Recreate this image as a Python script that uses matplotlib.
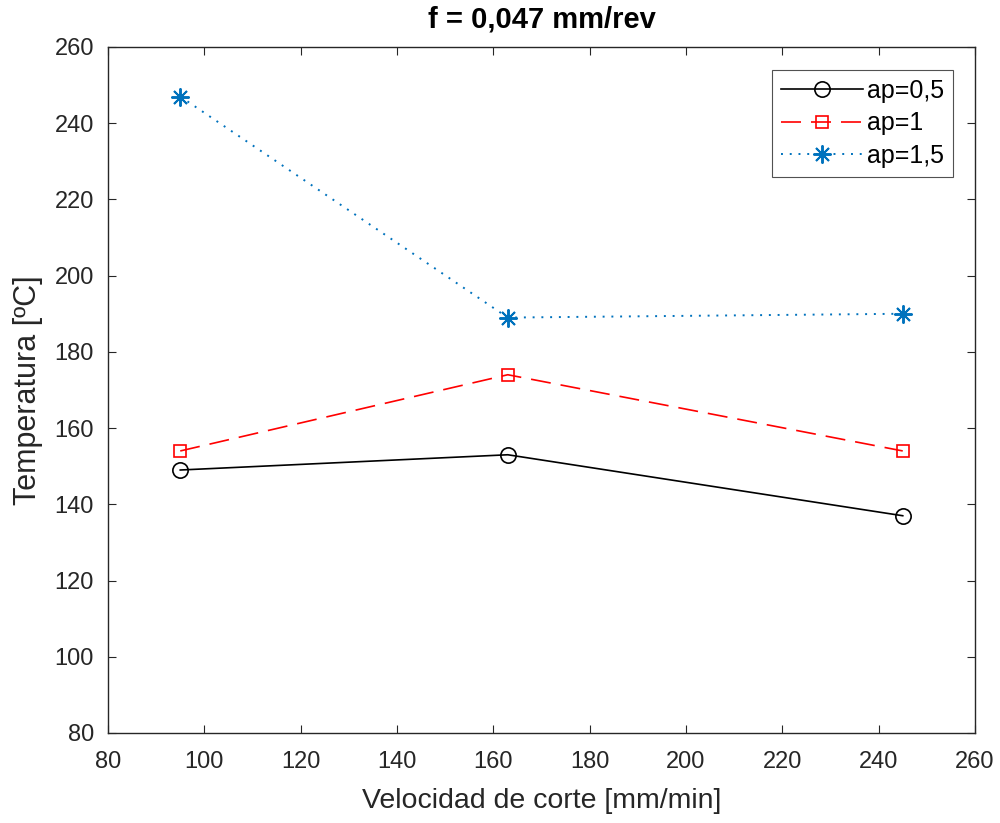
import matplotlib
matplotlib.use("Agg")
import matplotlib.pyplot as plt

plt.rcParams['font.family'] = ['Liberation Sans', 'DejaVu Sans']

velocidad = [95, 163, 245]
temp_ap05 = [149, 153, 137]
temp_ap1 = [154, 174, 154]
temp_ap15 = [247, 189, 190]
labels = ['ap=0,5', 'ap=1', 'ap=1,5']

fig = plt.figure(figsize=(10, 8.23), dpi=100)
ax = fig.add_axes([0.108, 0.1094, 0.867, 0.8335])

ax.plot(velocidad, temp_ap05, color='black', linestyle='-', linewidth=1.2,
        marker='o', markersize=11, markerfacecolor='none', markeredgewidth=1.2,
        label=labels[0])
ax.plot(velocidad, temp_ap1, color='red', linestyle=(0, (12, 6)), linewidth=1.2,
        marker='s', markersize=8.5, markerfacecolor='none', markeredgewidth=1.2,
        label=labels[1])
ax.plot(velocidad, temp_ap15, color='#0072BD', linestyle=(0, (1, 3.5)), linewidth=1.4,
        marker=(8, 2, 0), markersize=13, markeredgewidth=1.4,
        label=labels[2])

ax.set_xlim(80, 260)
ax.set_ylim(80, 260)
ax.set_xticks(range(80, 261, 20))
ax.set_yticks(range(80, 261, 20))
ax.tick_params(direction='in', top=True, right=True, length=6, width=0.8,
               labelsize=17, colors='#262626')
ax.tick_params(axis='x', pad=13)
ax.tick_params(axis='y', pad=10)
for s in ax.spines.values():
    s.set_color('#262626')
    s.set_linewidth(1.0)

ax.set_xlabel('Velocidad de corte [mm/min]', fontsize=20.5, color='#262626',
              labelpad=11)
ax.set_ylabel('Temperatura [ºC]', fontsize=22, color='#262626', labelpad=8)
ax.set_title('f = 0,047 mm/rev', fontsize=21, fontweight='bold', color='black',
             pad=14)

leg = ax.legend(loc='upper right', bbox_to_anchor=(0.9746, 0.9665),
                fontsize=18, frameon=True, fancybox=False,
                edgecolor='#262626', handlelength=3.3, borderpad=0.35,
                labelspacing=0.35, handletextpad=0.15, borderaxespad=0.0)
leg.get_frame().set_linewidth(0.8)

fig.savefig('out.png', dpi=100)
